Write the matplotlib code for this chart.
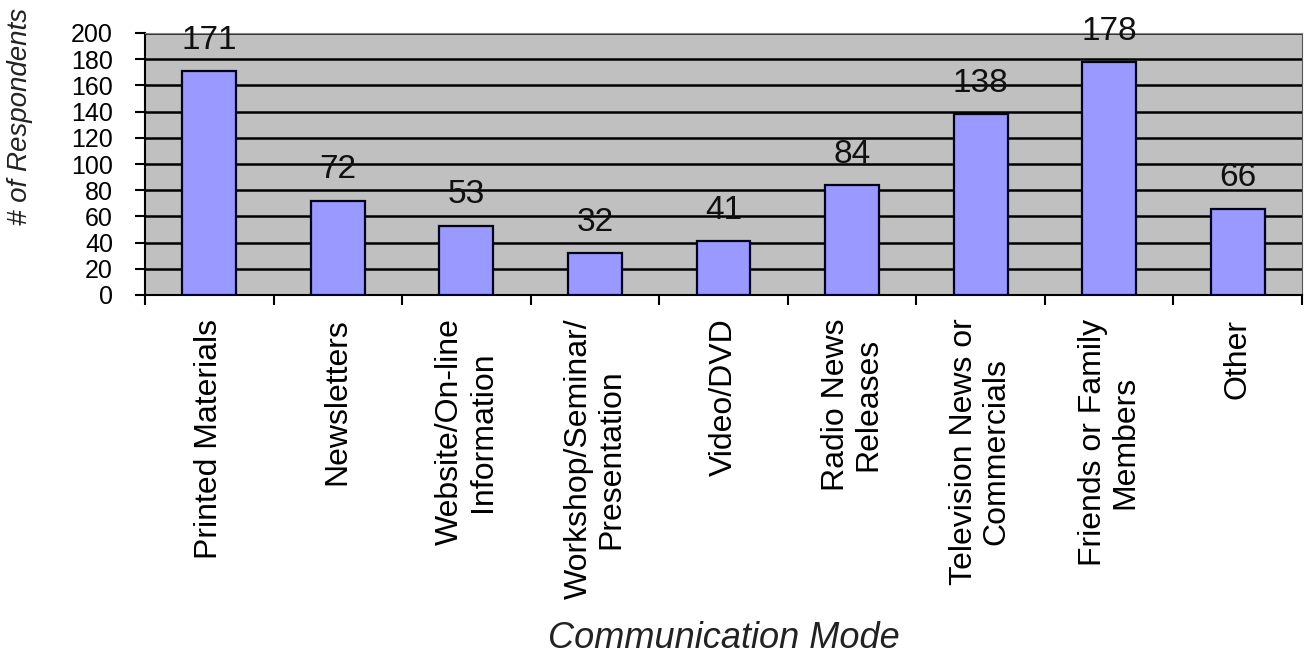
import matplotlib.pyplot as plt
import numpy as np

plt.rcParams['font.family'] = ['Liberation Sans', 'DejaVu Sans']

# data
modes = ['Printed Materials', 'Newsletters', 'Website/On-line\nInformation',
         'Workshop/Seminar/\nPresentation', 'Video/DVD', 'Radio News\nReleases',
         'Television News or\nCommercials', 'Friends or Family\nMembers', 'Other']
counts = [171, 72, 53, 32, 41, 84, 138, 178, 66]
yticks = [0, 20, 40, 60, 80, 100, 120, 140, 160, 180, 200]

fig = plt.figure(figsize=(13.04, 6.56), dpi=100)
ax = fig.add_axes([145/1304, 1 - 295/656, 1157/1304, 262/656])
ax.set_facecolor('#c0c0c0')

x = np.arange(len(counts))
ax.bar(x, counts, width=0.42, color='#9999ff', edgecolor='#000022', linewidth=1.6, zorder=3)

for xi, c in zip(x, counts):
    ax.annotate(str(c), (xi, c), xytext=(0, 16), textcoords='offset points',
                ha='center', va='baseline', fontsize=24, color='#111111', zorder=4)

ax.set_xlim(-0.5, len(counts) - 0.5)
ax.set_ylim(0, 200)
ax.set_yticks(yticks)
ax.set_yticklabels([str(v) for v in yticks], fontsize=18)
ax.yaxis.grid(True, color='black', linewidth=1.8, zorder=1)
ax.set_axisbelow(True)

ax.set_xticks(x)
ax.set_xticklabels(modes, rotation=90, fontsize=23, ha='center', va='top',
                   multialignment='center', linespacing=1.1)
ax.set_xticks(np.arange(-0.5, len(counts)), minor=True)
ax.tick_params(axis='x', which='major', length=0, pad=17)
ax.tick_params(axis='x', which='minor', length=7, width=1.5, direction='out')
ax.tick_params(axis='y', length=7, width=1.5, pad=16)

ax.spines['top'].set_color('#888888')
ax.spines['right'].set_color('#555555')
ax.spines['left'].set_linewidth(1.5)
ax.spines['bottom'].set_linewidth(1.5)

ax.set_ylabel('# of Respondents', fontsize=20, style='italic', color='#222222')
ax.yaxis.set_label_coords(-0.097, 0.68)
ax.set_xlabel('Communication Mode', fontsize=26, style='italic', color='#222222')
ax.xaxis.set_label_coords(0.5, -1.245)

plt.savefig('out.png')
